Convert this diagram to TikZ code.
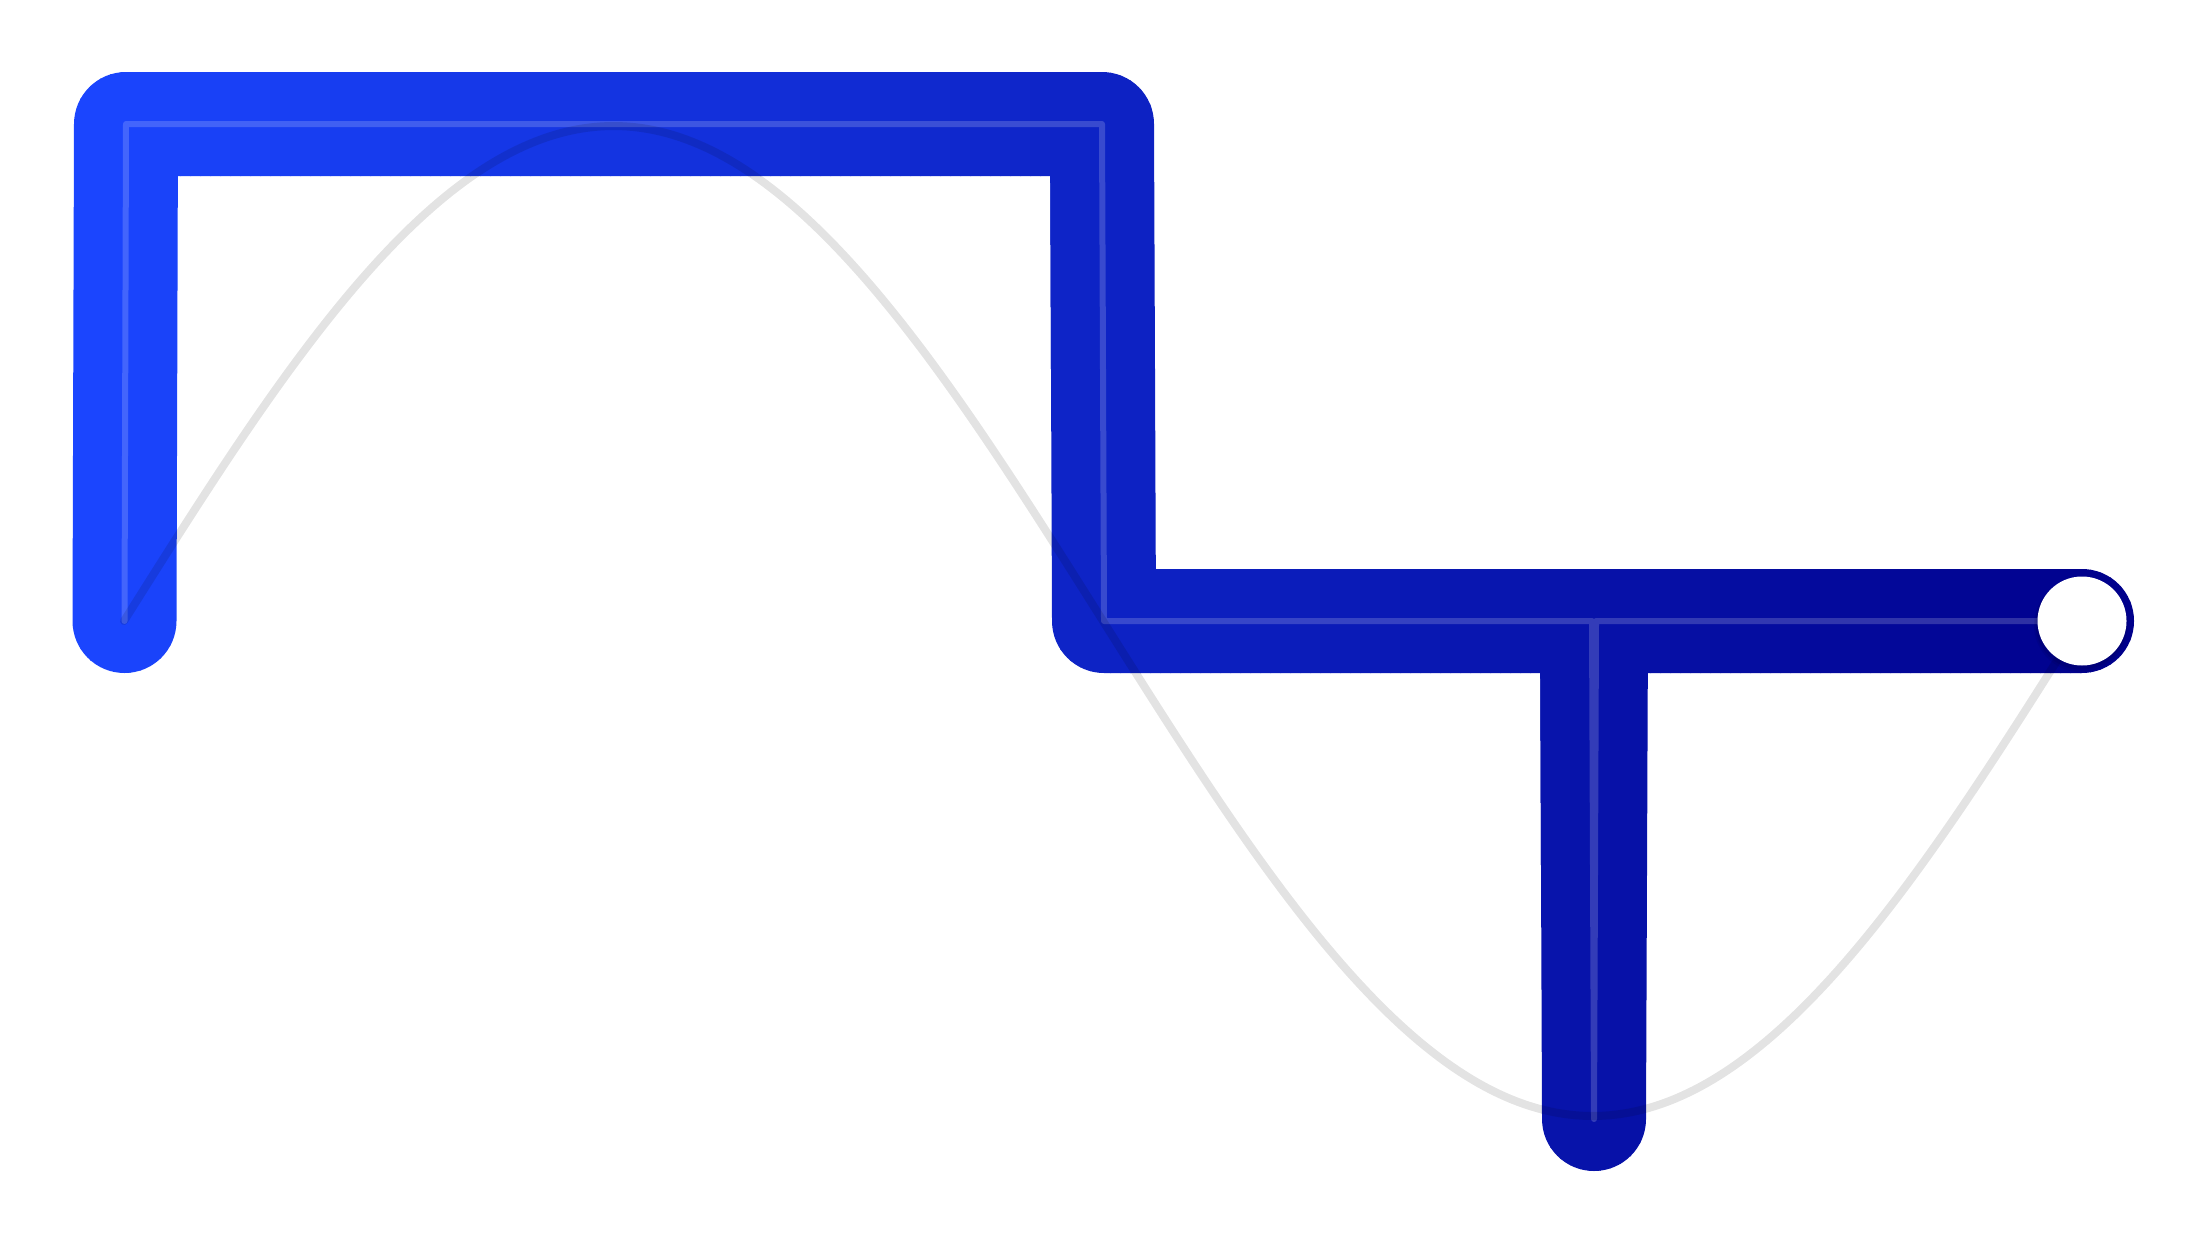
\documentclass[tikz,border=0pt]{standalone}
\definecolor{gstart}{RGB}{27,70,255}
\definecolor{gend}{RGB}{0,0,139}
\begin{document}
\begin{tikzpicture}[x=1pt,y=1pt,
  thickpath/.style={line width=104pt, line cap=round, line join=round},
  innerpath/.style={line width=6pt, white, opacity=0.18, line cap=round, line join=round},
  wave/.style={line width=8pt, black, opacity=0.11, line cap=round},
  endknob/.style={circle, fill=white, minimum size=89pt, inner sep=0pt}]
\useasboundingbox (0,0) rectangle (2208,-1242);
\coordinate (p1) at (124.5,-621);
\coordinate (p2) at (126,-124);
\coordinate (p3) at (1102,-124);
\coordinate (p4) at (1104,-621);
\coordinate (p5) at (1592,-621);
\coordinate (p6) at (1594,-1119);
\coordinate (p7) at (1596,-621);
\coordinate (p8) at (2082,-621);
% gradient-coloured thick stroke, drawn in vertical strips
\foreach \i in {0,...,206}{
  \pgfmathsetmacro\xa{70+10*\i}
  \pgfmathtruncatemacro\pc{min(100,max(0,round((\xa+5-72)/20.62)))}
  \begin{scope}
    \clip (\xa,0) rectangle (\xa+11,-1242);
    \draw[thickpath, draw=gend!\pc!gstart] (p1) -- (p2) -- (p3) -- (p4) -- (p5) -- (p6) -- (p7) -- (p8);
  \end{scope}
}
% thin inner line
\draw[innerpath] (p1) -- (p2) -- (p3) -- (p4) -- (p5) -- (p6) -- (p7) -- (p8);
% sine wave
\draw[wave] plot[domain=0:1, samples=300] ({124+1958*\x},{-621+495*sin(360*\x)});
% end knob with soft shadow
\fill[black, opacity=0.06] ([xshift=-1pt,yshift=-4pt]p8) circle (47);
\fill[black, opacity=0.08] ([xshift=-1pt,yshift=-3pt]p8) circle (45.5);
\node[endknob] (knob) at (p8) {};
\end{tikzpicture}
\end{document}
